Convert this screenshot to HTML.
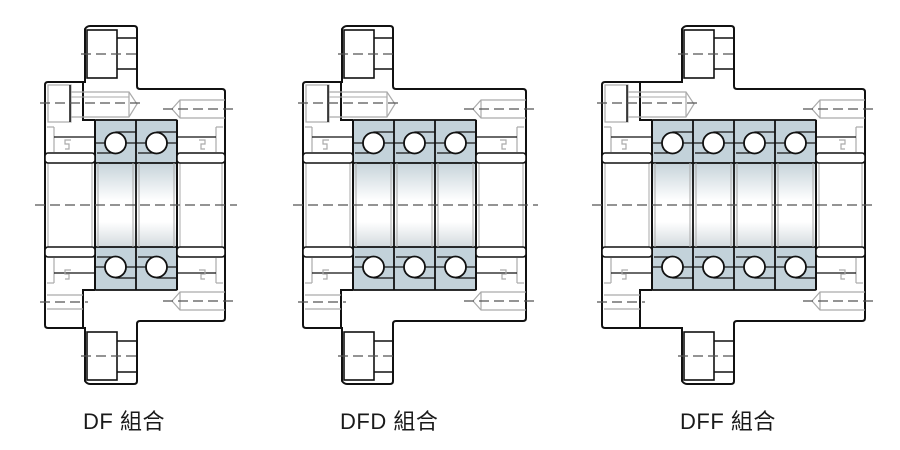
<!DOCTYPE html>
<html><head><meta charset="utf-8">
<style>
html,body{margin:0;padding:0;background:#fff;width:900px;height:450px;overflow:hidden}
#c{position:absolute;left:0;top:0}
.lbl{position:absolute;top:404px;font-family:"Liberation Sans","Noto Sans CJK TC",sans-serif;font-size:22px;color:#1a1a1a;white-space:nowrap;letter-spacing:0.5px}
</style></head><body>
<svg id="c" width="900" height="450" xmlns="http://www.w3.org/2000/svg">
<defs>
<linearGradient id="g" x1="0" y1="0" x2="0" y2="1">
<stop offset="0" stop-color="#c6d3da"/><stop offset="0.45" stop-color="#ffffff"/><stop offset="0.7" stop-color="#ffffff"/><stop offset="1" stop-color="#d3dade"/>
</linearGradient>
</defs>
<g id="root"></g>
</svg>
<div class="lbl" style="left:83px">DF 組合</div>
<div class="lbl" style="left:340px">DFD 組合</div>
<div class="lbl" style="left:680px">DFF 組合</div>
<script>
var out='';
function P(d,s,w,f,extra){out+='<path d="'+d+'" stroke="'+s+'" stroke-width="'+w+'" fill="'+(f||'none')+'" '+(extra||'')+'/>';}
function L(x1,y1,x2,y2,s,w,dash){out+='<line x1="'+x1+'" y1="'+y1+'" x2="'+x2+'" y2="'+y2+'" stroke="'+s+'" stroke-width="'+w+'"'+(dash?' stroke-dasharray="'+dash+'"':'')+'/>';}
var BK='#111',GR='#aaa',DS='#555';
function diagram(Lx,S,F1,F2,B0,n,R){
  var w=41,B1=B0+n*w;
  out+='<rect x="'+B0+'" y="163" width="'+(B1-B0)+'" height="84" fill="url(#g)"/>';
  [[120,163],[247,290]].forEach(function(b,k){
    out+='<rect x="'+B0+'" y="'+b[0]+'" width="'+(B1-B0)+'" height="43" fill="#c3d2da" stroke="'+BK+'" stroke-width="1.8" rx="1"/>';
    for(var i=0;i<n;i++){
      var x0=B0+i*w,cx=x0+w/2,cy=k==0?143:267;
      var yt=k==0?132:278, yb=k==0?153:257;
      L(cx,yt,x0+w,yt,BK,1.2);
      L(x0+2,yb,cx,yb,BK,1.2);
      L(x0,cy,cx-10,cy,BK,1.2);
      L(cx+10,cy,x0+w,cy,BK,1.2);
      out+='<circle cx="'+cx+'" cy="'+cy+'" r="10.5" fill="#fff" stroke="'+BK+'" stroke-width="1.8"/>';
    }
  });
  for(var i=0;i<=n;i++){var x=B0+i*w;L(x,120,x,290,BK,i==0||i==n?2:1.8);
    if(i<n){L(x+3,163,x+3,247,GR,1);L(x+w-3,163,x+w-3,247,GR,1);}}
  L(B0-3,163,B0-3,247,GR,1);L(B1+3,163,B1+3,247,GR,1);
  L(Lx+3,163,Lx+3,247,GR,1);L(R-3,163,R-3,247,GR,1);
  L(Lx,153,Lx,257,BK,2);L(R,153,R,257,BK,2);
  [153,247].forEach(function(y){
    out+='<rect x="'+Lx+'" y="'+y+'" width="'+(B0-Lx)+'" height="10" rx="3" fill="#fff" stroke="'+BK+'" stroke-width="1.6"/>';
    out+='<rect x="'+B1+'" y="'+y+'" width="'+(R-B1)+'" height="10" rx="3" fill="#fff" stroke="'+BK+'" stroke-width="1.6"/>';
  });
  [0,1].forEach(function(m){
    function Y(y){return m?410-y:y;}
    L(Lx+9,Y(127),Lx+9,Y(152),GR,1.2);L(Lx+2,Y(127),Lx+9,Y(127),GR,1.2);
    L(Lx+9,Y(137),B0,Y(137),BK,1.3);
    P('M'+(Lx+26)+' '+Y(140)+' h-6 v4 h4 v5 h-4',GR,1.2);
    L(R-9,Y(127),R-9,Y(152),GR,1.2);L(R-9,Y(127),R-2,Y(127),GR,1.2);
    L(B1,Y(137),R-9,Y(137),BK,1.3);
    P('M'+(R-26)+' '+Y(140)+' h6 v4 h-4 v5 h4',GR,1.2);
  });
  P('M'+Lx+' 153 V85 Q'+Lx+' 82 '+(Lx+3)+' 82 H'+(F1-2)+' V29 Q'+F1+' 26 '+(F1+3)+' 26 H'+(F2-3)+' Q'+F2+' 26 '+F2+' 29 V86 Q'+F2+' 89 '+(F2+3)+' 89 H'+(R-3)+' Q'+R+' 89 '+R+' 92 V153',BK,2);
  P('M'+Lx+' 257 V325 Q'+Lx+' 328 '+(Lx+3)+' 328 H'+(F1-2)+' V381 Q'+F1+' 384 '+(F1+3)+' 384 H'+(F2-3)+' Q'+F2+' 384 '+F2+' 381 V324 Q'+F2+' 321 '+(F2+3)+' 321 H'+(R-3)+' Q'+R+' 321 '+R+' 318 V257',BK,2);
  P('M'+S+' 82 V120 H'+B0,BK,2);
  P('M'+S+' 328 V290 H'+B0,BK,2);
  [0,1].forEach(function(m){
    function Y(y){return m?410-y:y;}
    out+='<rect x="'+F1+'" y="'+Math.min(Y(30),Y(78))+'" width="30" height="48" fill="none" stroke="'+BK+'" stroke-width="1.6"/>';
    L(F1+30,Y(38),F2,Y(38),BK,1.5);L(F1+30,Y(69),F2,Y(69),BK,1.5);
    L(F1-6,Y(54),F2+4,Y(54),DS,1.3,'10,5');
    P('M'+R+' '+Y(100)+' H'+(R-45)+' L'+(R-53)+' '+Y(109)+' L'+(R-45)+' '+Y(118)+' H'+R+' M'+(R-45)+' '+Y(100)+' V'+Y(118),GR,1.2);
    L(R-62,Y(109),R+10,Y(109),DS,1.3,'10,5');
  });
  out+='<rect x="'+(Lx+3)+'" y="85" width="23" height="37" fill="none" stroke="'+GR+'" stroke-width="1.2"/>';
  L(Lx+25,85,Lx+25,122,BK,1.5);
  P('M'+(Lx+26)+' 92 H'+(Lx+84)+' L'+(Lx+92)+' 104 L'+(Lx+84)+' 117 H'+(Lx+26)+' M'+(Lx+84)+' 92 V117',GR,1.2);
  L(Lx+26,97,Lx+84,97,GR,1);
  L(Lx-5,103,Lx+98,103,DS,1.3,'10,5');
  L(Lx+2,295,S,295,GR,1.2);L(Lx+2,309,S,309,GR,1.2);
  L(Lx-5,302,S+5,302,DS,1.3,'10,5');
  L(Lx-10,205,R+12,205,DS,1.3,'10,5');
}
diagram(45,83,87,137,95,2,225);
diagram(303,341,344,393,353,3,526);
diagram(602,640,684,734,652,4,865);
document.getElementById('root').innerHTML=out;
</script>
</body></html>
